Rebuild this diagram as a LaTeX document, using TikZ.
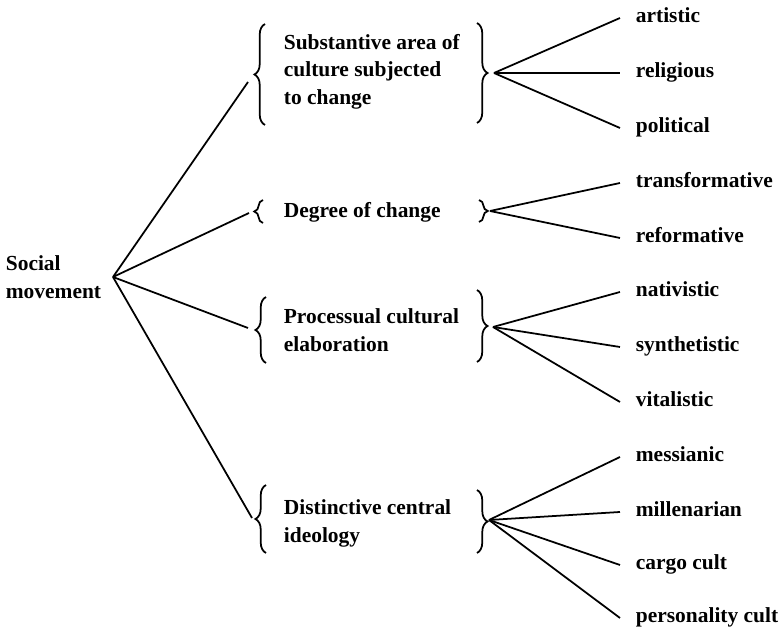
\documentclass[tikz,border=0pt]{standalone}
\usepackage{fontspec}
\setmainfont{Liberation Serif}
\usetikzlibrary{positioning,decorations.pathreplacing}
\begin{document}
\begin{tikzpicture}[scale=0.2, line width=1pt,
    every node/.style={font=\fontsize{12.2}{15.6}\selectfont\bfseries, inner sep=0pt},
    group/.style={anchor=west, align=left},
    leaf/.style={anchor=west, inner xsep=3mm, text height=0.7em, text depth=0.2em},
    bigbrace/.style={decorate, decoration={brace, amplitude=6pt}},
    smallbrace/.style={decorate, decoration={brace, amplitude=5pt}}]
    \useasboundingbox (0,0) rectangle (78.3,-62.9);
    \coordinate (hub) at (11.3,-27.7);
    \node [left=2.2mm of hub, align=left] (root) {Social\\movement};
    \node [group] (subst) at (28.3,-7.15) {Substantive area of\\culture subjected\\to change};
    \node [group] (degree) at (28.3,-21.2) {Degree of change};
    \node [group] (process) at (28.3,-33.0) {Processual cultural\\elaboration};
    \node [group] (ideology) at (28.3,-52.35) {Distinctive central\\ideology};
    \draw [bigbrace] (26.5,-12.5) -- (26.5,-2.4);
    \draw [bigbrace] (47.7,-2.3) -- (47.7,-12.3);
    \draw [smallbrace] (26.3,-22.3) -- (26.3,-20.0);
    \draw [smallbrace] (47.9,-20.0) -- (47.9,-22.2);
    \draw [bigbrace] (26.6,-36.3) -- (26.6,-29.7);
    \draw [bigbrace] (47.7,-29.0) -- (47.7,-36.2);
    \draw [bigbrace] (26.6,-55.3) -- (26.6,-48.5);
    \draw [bigbrace] (47.7,-49.0) -- (47.7,-55.3);
    \coordinate (subst-in) at (24.8,-8.2);
    \coordinate (subst-out) at (49.4,-7.3);
    \coordinate (degree-in) at (24.9,-21.3);
    \coordinate (degree-out) at (49.0,-21.1);
    \coordinate (process-in) at (24.8,-32.8);
    \coordinate (process-out) at (49.3,-32.7);
    \coordinate (ideology-in) at (25.2,-51.8);
    \coordinate (ideology-out) at (48.9,-52.0);
    \node [leaf] (artistic) at (62,-1.8) {artistic};
    \node [leaf] (religious) at (62,-7.3) {religious};
    \node [leaf] (political) at (62,-12.8) {political};
    \node [leaf] (transformative) at (62,-18.3) {transformative};
    \node [leaf] (reformative) at (62,-23.8) {reformative};
    \node [leaf] (nativistic) at (62,-29.2) {nativistic};
    \node [leaf] (synthetistic) at (62,-34.7) {synthetistic};
    \node [leaf] (vitalistic) at (62,-40.2) {vitalistic};
    \node [leaf] (messianic) at (62,-45.7) {messianic};
    \node [leaf] (millenarian) at (62,-51.2) {millenarian};
    \node [leaf] (cargo) at (62,-56.5) {cargo cult};
    \node [leaf] (personality) at (62,-61.8) {personality cult};
    \draw (hub) -- (subst-in);
    \draw (hub) -- (degree-in);
    \draw (hub) -- (process-in);
    \draw (hub) -- (ideology-in);
    \draw (subst-out) -- (artistic.west);
    \draw (subst-out) -- (religious.west);
    \draw (subst-out) -- (political.west);
    \draw (degree-out) -- (transformative.west);
    \draw (degree-out) -- (reformative.west);
    \draw (process-out) -- (nativistic.west);
    \draw (process-out) -- (synthetistic.west);
    \draw (process-out) -- (vitalistic.west);
    \draw (ideology-out) -- (messianic.west);
    \draw (ideology-out) -- (millenarian.west);
    \draw (ideology-out) -- (cargo.west);
    \draw (ideology-out) -- (personality.west);
\end{tikzpicture}
\end{document}
